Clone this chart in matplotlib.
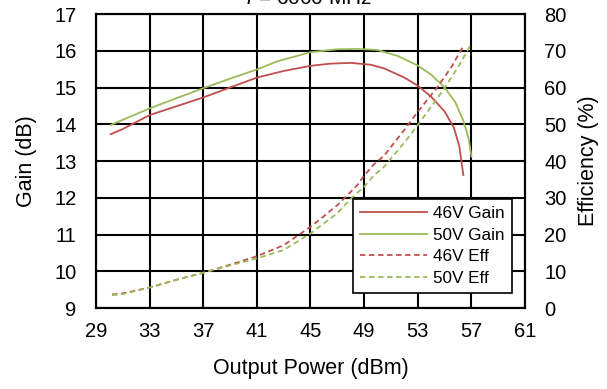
import matplotlib.pyplot as plt

plt.rcParams['font.family'] = ['Liberation Sans', 'DejaVu Sans']

# output power (dBm) and gain (dB)
pout_46_gain = [30.1, 31.0, 33.0, 35.0, 37.0, 39.0, 41.0, 43.0, 45.0, 46.5, 48.0, 49.5, 50.5, 52.0, 53.0, 54.0, 55.0, 55.7, 56.1, 56.4]
gain_46 = [13.73, 13.87, 14.25, 14.49, 14.73, 15.0, 15.27, 15.45, 15.59, 15.65, 15.67, 15.62, 15.52, 15.27, 15.05, 14.75, 14.35, 13.9, 13.4, 12.62]

pout_50_gain = [30.1, 33.0, 35.0, 37.0, 39.0, 41.0, 42.5, 45.0, 47.0, 48.5, 50.0, 51.5, 53.0, 54.0, 55.0, 55.8, 56.4, 56.8, 57.0]
gain_50 = [13.98, 14.43, 14.71, 14.98, 15.24, 15.49, 15.71, 15.96, 16.04, 16.05, 16.02, 15.86, 15.6, 15.35, 15.0, 14.6, 14.1, 13.6, 13.12]

# output power (dBm) and drain efficiency (%)
pout_46_eff = [30.2, 31.0, 33.0, 35.0, 37.0, 39.0, 41.0, 43.0, 45.0, 46.0, 47.0, 47.7, 48.5, 49.0, 49.7, 50.5, 52.0, 53.0, 54.4, 55.5, 56.4]
eff_46 = [3.7, 4.0, 5.6, 7.7, 9.6, 11.8, 14.1, 17.1, 22.1, 25.0, 28.0, 30.5, 33.5, 36.0, 39.0, 41.5, 48.5, 53.4, 59.8, 65.5, 71.3]

pout_50_eff = [30.2, 31.0, 33.0, 35.0, 37.0, 39.0, 41.0, 43.0, 45.0, 47.0, 48.0, 49.0, 49.7, 50.5, 52.0, 53.0, 54.9, 56.0, 56.9]
eff_50 = [3.5, 3.8, 5.6, 7.7, 9.6, 11.6, 13.5, 15.8, 20.3, 25.8, 29.7, 33.0, 36.0, 38.5, 45.0, 49.8, 59.3, 65.5, 71.3]

x_ticks = [29, 33, 37, 41, 45, 49, 53, 57, 61]
red = '#C0504D'
green = '#9BBB59'

fig = plt.figure(figsize=(6.07, 3.89), dpi=100)
ax = fig.add_axes((0.158, 0.208, 0.707, 0.756))
ax2 = ax.twinx()

l1, = ax.plot(pout_46_gain, gain_46, color=red, lw=1.3, label='46V Gain')
l2, = ax.plot(pout_50_gain, gain_50, color=green, lw=1.3, label='50V Gain')
l3, = ax2.plot(pout_46_eff, eff_46, color=red, lw=1.3, ls=(0, (3, 2)), label='46V Eff')
l4, = ax2.plot(pout_50_eff, eff_50, color=green, lw=1.3, ls=(0, (3, 2)), label='50V Eff')

ax.set_xlim(29, 61)
ax.set_ylim(9, 17)
ax2.set_ylim(0, 80)
ax.set_xticks(x_ticks)
ax.set_yticks(range(9, 18))
ax2.set_yticks(range(0, 81, 10))
ax.grid(True, color='black', lw=1.5)
ax.set_axisbelow(True)
for a in (ax, ax2):
    a.tick_params(length=0, labelsize=14.5)
    for s in a.spines.values():
        s.set_linewidth(1.5)
        s.set_color('black')
ax.tick_params(axis='x', pad=10)
ax.tick_params(axis='y', pad=14)
ax2.tick_params(axis='y', pad=14)

ax.set_xlabel('Output Power (dBm)', fontsize=15.5, labelpad=12)
ax.set_ylabel('Gain (dB)', fontsize=15.5, labelpad=12)
ax2.set_ylabel('Efficiency (%)', fontsize=15.5, labelpad=8)

fig.text(0.508, 0.99, '$f$ = 6000 MHz', ha='center', va='baseline', fontsize=15)

leg = ax2.legend(handles=[l1, l2, l3, l4], loc='lower right', bbox_to_anchor=(0.97, 0.05),
                 borderaxespad=0, fontsize=12.3, handlelength=3.9, fancybox=False,
                 framealpha=1, edgecolor='black', borderpad=0.45, labelspacing=0.38,
                 handletextpad=0.35)
leg.get_frame().set_linewidth(1.2)

fig.savefig('out.png')
